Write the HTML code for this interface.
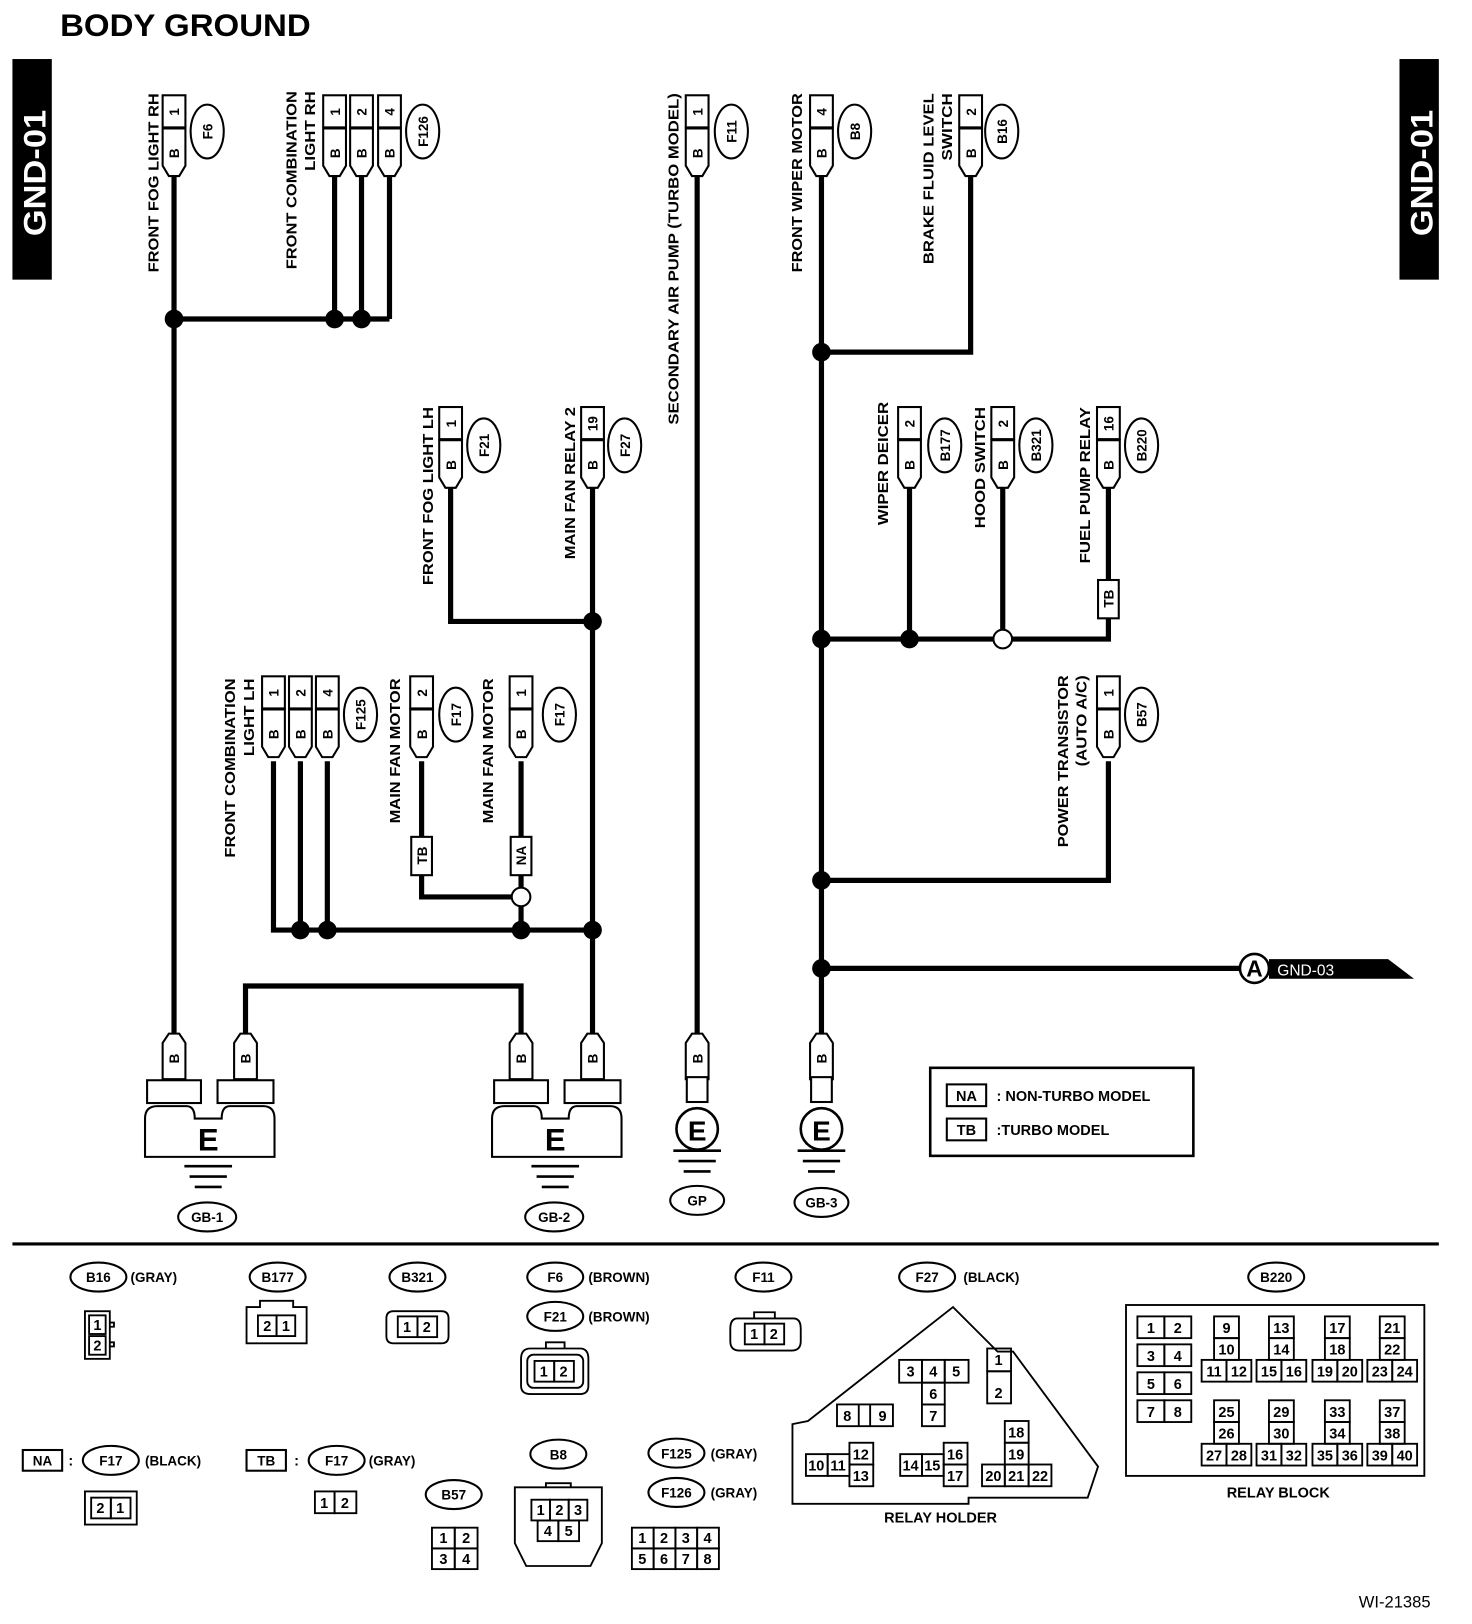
<!DOCTYPE html>
<html><head><meta charset="utf-8"><style>
html,body{margin:0;padding:0;background:#fff}
svg{display:block}
text{font-family:"Liberation Sans",Arial,sans-serif;font-weight:bold;fill:#000}
.l{font-size:14px}
.p{font-size:13px;text-anchor:middle}
.c{font-size:14px;font-weight:normal;text-anchor:middle}
.w{fill:none;stroke:#000;stroke-width:5}
.o{fill:#fff;stroke:#000;stroke-width:2}
.t{fill:none;stroke:#000;stroke-width:1.8}
</style></head><body>
<svg width="1472" height="1624" viewBox="0 0 1421 1568" preserveAspectRatio="none" xmlns="http://www.w3.org/2000/svg">
<defs>
<path id="cap" d="M-11,0 H11 V36 L5,46 H-5 L-11,36 Z" fill="#fff" stroke="#000" stroke-width="2"/>
<path id="capu" d="M-5,0 H5 L11,9 V44 H-11 V9 Z" fill="#fff" stroke="#000" stroke-width="2"/>
<rect id="pin" x="-11" y="0" width="22" height="31" fill="#fff" stroke="#000" stroke-width="2"/>
<ellipse id="el" rx="16" ry="26" fill="#fff" stroke="#000" stroke-width="2"/>
<circle id="dot" r="9" fill="#000"/>
</defs>

<text x="58" y="35" style="font-size:30px" textLength="242" lengthAdjust="spacingAndGlyphs">BODY GROUND</text>
<rect x="12" y="57" width="38" height="213" fill="#000"/>
<text transform="translate(44,228) rotate(-90)" style="font-size:30px;fill:#fff" textLength="122" lengthAdjust="spacingAndGlyphs">GND-01</text>
<rect x="1351" y="57" width="38" height="213" fill="#000"/>
<text transform="translate(1383,228) rotate(-90)" style="font-size:30px;fill:#fff" textLength="122" lengthAdjust="spacingAndGlyphs">GND-01</text>

<!-- wires -->
<g class="w">
<path d="M168,170 V1000"/><path d="M168,308 H376"/><path d="M323,170 V308"/><path d="M349,170 V308"/><path d="M376,170 V308"/>
<path d="M673,170 V1000"/>
<path d="M793,170 V1000"/><path d="M793,340 H937 V170"/>
<path d="M435,470 V600 H572"/><path d="M572,470 V1000"/>
<path d="M793,617 H1070 V470"/><path d="M878,470 V617"/><path d="M968,470 V617"/>
<path d="M1070,735 V850 H793"/>
<path d="M793,935 H1200"/>
<path d="M264,735 V898 H572"/><path d="M290,735 V898"/><path d="M316,735 V898"/>
<path d="M407,735 V866 H503"/><path d="M503,735 V898"/>
<path d="M237,998 V952 H503 V998"/>
</g>
<use href="#dot" x="168" y="308"/><use href="#dot" x="323" y="308"/><use href="#dot" x="349" y="308"/>
<use href="#dot" x="793" y="340"/><use href="#dot" x="572" y="600"/>
<use href="#dot" x="793" y="617"/><use href="#dot" x="878" y="617"/>
<circle cx="968" cy="617" r="9" class="o"/>
<use href="#dot" x="793" y="850"/><use href="#dot" x="793" y="935"/>
<use href="#dot" x="290" y="898"/><use href="#dot" x="316" y="898"/><use href="#dot" x="503" y="898"/><use href="#dot" x="572" y="898"/>
<circle cx="503" cy="866" r="9" class="o"/>

<rect x="1060" y="560" width="20" height="37" class="o"/><text class="p" transform="translate(1075,578) rotate(-90)">TB</text>
<rect x="397" y="808" width="20" height="37" class="o"/><text class="p" transform="translate(412,826) rotate(-90)">TB</text>
<rect x="493" y="808" width="20" height="37" class="o"/><text class="p" transform="translate(508,826) rotate(-90)">NA</text>

<g>
<use href="#pin" x="168" y="92"/><use href="#cap" x="168" y="124"/>
<use href="#pin" x="323" y="92"/><use href="#cap" x="323" y="124"/>
<use href="#pin" x="349" y="92"/><use href="#cap" x="349" y="124"/>
<use href="#pin" x="376" y="92"/><use href="#cap" x="376" y="124"/>
<use href="#pin" x="673" y="92"/><use href="#cap" x="673" y="124"/>
<use href="#pin" x="793" y="92"/><use href="#cap" x="793" y="124"/>
<use href="#pin" x="937" y="92"/><use href="#cap" x="937" y="124"/>
<use href="#pin" x="435" y="393"/><use href="#cap" x="435" y="425"/>
<use href="#pin" x="572" y="393"/><use href="#cap" x="572" y="425"/>
<use href="#pin" x="878" y="393"/><use href="#cap" x="878" y="425"/>
<use href="#pin" x="968" y="393"/><use href="#cap" x="968" y="425"/>
<use href="#pin" x="1070" y="393"/><use href="#cap" x="1070" y="425"/>
<use href="#pin" x="264" y="653"/><use href="#cap" x="264" y="685"/>
<use href="#pin" x="290" y="653"/><use href="#cap" x="290" y="685"/>
<use href="#pin" x="316" y="653"/><use href="#cap" x="316" y="685"/>
<use href="#pin" x="407" y="653"/><use href="#cap" x="407" y="685"/>
<use href="#pin" x="503" y="653"/><use href="#cap" x="503" y="685"/>
<use href="#pin" x="1070" y="653"/><use href="#cap" x="1070" y="685"/>
</g>
<g class="p">
<text transform="translate(173,108) rotate(-90)">1</text><text transform="translate(173,148) rotate(-90)">B</text>
<text transform="translate(328,108) rotate(-90)">1</text><text transform="translate(328,148) rotate(-90)">B</text>
<text transform="translate(354,108) rotate(-90)">2</text><text transform="translate(354,148) rotate(-90)">B</text>
<text transform="translate(381,108) rotate(-90)">4</text><text transform="translate(381,148) rotate(-90)">B</text>
<text transform="translate(678,108) rotate(-90)">1</text><text transform="translate(678,148) rotate(-90)">B</text>
<text transform="translate(798,108) rotate(-90)">4</text><text transform="translate(798,148) rotate(-90)">B</text>
<text transform="translate(942,108) rotate(-90)">2</text><text transform="translate(942,148) rotate(-90)">B</text>
<text transform="translate(440,409) rotate(-90)">1</text><text transform="translate(440,449) rotate(-90)">B</text>
<text transform="translate(577,409) rotate(-90)">19</text><text transform="translate(577,449) rotate(-90)">B</text>
<text transform="translate(883,409) rotate(-90)">2</text><text transform="translate(883,449) rotate(-90)">B</text>
<text transform="translate(973,409) rotate(-90)">2</text><text transform="translate(973,449) rotate(-90)">B</text>
<text transform="translate(1075,409) rotate(-90)">16</text><text transform="translate(1075,449) rotate(-90)">B</text>
<text transform="translate(269,669) rotate(-90)">1</text><text transform="translate(269,709) rotate(-90)">B</text>
<text transform="translate(295,669) rotate(-90)">2</text><text transform="translate(295,709) rotate(-90)">B</text>
<text transform="translate(321,669) rotate(-90)">4</text><text transform="translate(321,709) rotate(-90)">B</text>
<text transform="translate(412,669) rotate(-90)">2</text><text transform="translate(412,709) rotate(-90)">B</text>
<text transform="translate(508,669) rotate(-90)">1</text><text transform="translate(508,709) rotate(-90)">B</text>
<text transform="translate(1075,669) rotate(-90)">1</text><text transform="translate(1075,709) rotate(-90)">B</text>
</g>
<use href="#el" x="200" y="127"/><use href="#el" x="408" y="127"/><use href="#el" x="706" y="127"/><use href="#el" x="825" y="127"/><use href="#el" x="967" y="127"/>
<use href="#el" x="467" y="430"/><use href="#el" x="603" y="430"/><use href="#el" x="912" y="430"/><use href="#el" x="1000" y="430"/><use href="#el" x="1102" y="430"/>
<use href="#el" x="348" y="690"/><use href="#el" x="440" y="690"/><use href="#el" x="540" y="690"/><use href="#el" x="1102" y="690"/>
<g class="p">
<text transform="translate(205,127) rotate(-90)">F6</text>
<text transform="translate(413,127) rotate(-90)">F126</text>
<text transform="translate(711,127) rotate(-90)">F11</text>
<text transform="translate(830,127) rotate(-90)">B8</text>
<text transform="translate(972,127) rotate(-90)">B16</text>
<text transform="translate(472,430) rotate(-90)">F21</text>
<text transform="translate(608,430) rotate(-90)">F27</text>
<text transform="translate(917,430) rotate(-90)">B177</text>
<text transform="translate(1005,430) rotate(-90)">B321</text>
<text transform="translate(1107,430) rotate(-90)">B220</text>
<text transform="translate(353,690) rotate(-90)">F125</text>
<text transform="translate(445,690) rotate(-90)">F17</text>
<text transform="translate(545,690) rotate(-90)">F17</text>
<text transform="translate(1107,690) rotate(-90)">B57</text>
</g>
<g class="l">
<text transform="translate(153,263) rotate(-90)" textLength="173" lengthAdjust="spacingAndGlyphs">FRONT FOG LIGHT RH</text>
<text transform="translate(286,260) rotate(-90)" textLength="172" lengthAdjust="spacingAndGlyphs">FRONT COMBINATION</text>
<text transform="translate(304,165) rotate(-90)" textLength="77" lengthAdjust="spacingAndGlyphs">LIGHT RH</text>
<text transform="translate(655,410) rotate(-90)" textLength="320" lengthAdjust="spacingAndGlyphs">SECONDARY AIR PUMP (TURBO MODEL)</text>
<text transform="translate(774,263) rotate(-90)" textLength="173" lengthAdjust="spacingAndGlyphs">FRONT WIPER MOTOR</text>
<text transform="translate(901,255) rotate(-90)" textLength="165" lengthAdjust="spacingAndGlyphs">BRAKE FLUID LEVEL</text>
<text transform="translate(919,155) rotate(-90)" textLength="65" lengthAdjust="spacingAndGlyphs">SWITCH</text>
<text transform="translate(418,565) rotate(-90)" textLength="172" lengthAdjust="spacingAndGlyphs">FRONT FOG LIGHT LH</text>
<text transform="translate(555,540) rotate(-90)" textLength="147" lengthAdjust="spacingAndGlyphs">MAIN FAN RELAY 2</text>
<text transform="translate(857,507) rotate(-90)" textLength="119" lengthAdjust="spacingAndGlyphs">WIPER DEICER</text>
<text transform="translate(951,510) rotate(-90)" textLength="117" lengthAdjust="spacingAndGlyphs">HOOD SWITCH</text>
<text transform="translate(1052,544) rotate(-90)" textLength="151" lengthAdjust="spacingAndGlyphs">FUEL PUMP RELAY</text>
<text transform="translate(227,828) rotate(-90)" textLength="173" lengthAdjust="spacingAndGlyphs">FRONT COMBINATION</text>
<text transform="translate(245,730) rotate(-90)" textLength="75" lengthAdjust="spacingAndGlyphs">LIGHT LH</text>
<text transform="translate(386,795) rotate(-90)" textLength="140" lengthAdjust="spacingAndGlyphs">MAIN FAN MOTOR</text>
<text transform="translate(476,795) rotate(-90)" textLength="140" lengthAdjust="spacingAndGlyphs">MAIN FAN MOTOR</text>
<text transform="translate(1031,818) rotate(-90)" textLength="166" lengthAdjust="spacingAndGlyphs">POWER TRANSISTOR</text>
<text transform="translate(1049,740) rotate(-90)" textLength="88" lengthAdjust="spacingAndGlyphs">(AUTO A/C)</text>
</g>

<circle cx="1211" cy="935" r="14" class="o" style="stroke-width:2.5"/>
<text x="1211" y="943" style="font-size:22px;text-anchor:middle">A</text>
<path d="M1225,926 H1340 L1365,945 H1225 Z" fill="#000"/>
<text x="1233" y="942" style="font-size:15px;fill:#fff;font-weight:normal">GND-03</text>

<g>
<use href="#capu" x="168" y="998"/><use href="#capu" x="237" y="998"/>
<use href="#capu" x="503" y="998"/><use href="#capu" x="572" y="998"/>
<use href="#capu" x="673" y="998"/><use href="#capu" x="793" y="998"/>
</g>
<g class="p">
<text transform="translate(173,1022) rotate(-90)">B</text><text transform="translate(242,1022) rotate(-90)">B</text>
<text transform="translate(508,1022) rotate(-90)">B</text><text transform="translate(577,1022) rotate(-90)">B</text>
<text transform="translate(678,1022) rotate(-90)">B</text><text transform="translate(798,1022) rotate(-90)">B</text>
</g>
<g fill="#fff" stroke="#000" stroke-width="2">
<rect x="142" y="1043" width="52" height="22"/><rect x="210" y="1043" width="54" height="22"/>
<path d="M140,1117 V1080 Q140,1068 152,1068 H180 Q188,1068 188,1080 H214 Q214,1068 222,1068 H254 Q265,1068 265,1080 V1117 Z"/>
<rect x="477" y="1043" width="52" height="22"/><rect x="545" y="1043" width="54" height="22"/>
<path d="M475,1117 V1080 Q475,1068 487,1068 H515 Q523,1068 523,1080 H549 Q549,1068 557,1068 H589 Q600,1068 600,1080 V1117 Z"/>
<rect x="663" y="1040" width="20" height="24"/><circle cx="673" cy="1090" r="20" stroke-width="2.5"/>
<rect x="783" y="1040" width="20" height="24"/><circle cx="793" cy="1090" r="20" stroke-width="2.5"/>
</g>
<g style="font-size:30px;text-anchor:middle">
<text x="201" y="1111">E</text><text x="536" y="1111">E</text>
<text x="673" y="1101" style="font-size:27px">E</text><text x="793" y="1101" style="font-size:27px">E</text>
</g>
<g stroke="#000" stroke-width="2.5">
<path d="M178,1126 H224 M183,1136 H219 M188,1146 H214"/>
<path d="M513,1126 H559 M518,1136 H554 M523,1146 H549"/>
<path d="M650,1111 H696 M655,1121 H691 M660,1131 H686"/>
<path d="M770,1111 H816 M775,1121 H811 M780,1131 H806"/>
</g>
<g class="o"><ellipse cx="200" cy="1175" rx="28" ry="14"/><ellipse cx="535" cy="1175" rx="28" ry="14"/><ellipse cx="673" cy="1159" rx="26" ry="14"/><ellipse cx="793" cy="1161" rx="26" ry="14"/></g>
<g class="p"><text x="200" y="1180">GB-1</text><text x="535" y="1180">GB-2</text><text x="673" y="1164">GP</text><text x="793" y="1166">GB-3</text></g>

<rect x="898" y="1031" width="254" height="85" class="o" style="stroke-width:2.5"/>
<rect x="914" y="1047" width="38" height="21" class="o"/><text x="933" y="1063" class="p" style="font-size:14px">NA</text>
<text x="962" y="1063" style="font-size:14px">: NON-TURBO MODEL</text>
<rect x="914" y="1080" width="38" height="21" class="o"/><text x="933" y="1096" class="p" style="font-size:14px">TB</text>
<text x="962" y="1096" style="font-size:14px">:TURBO MODEL</text>

<line x1="12" y1="1201" x2="1389" y2="1201" stroke="#000" stroke-width="3"/>

<g class="o">
<ellipse cx="95" cy="1233" rx="27" ry="14"/><ellipse cx="268" cy="1233" rx="27" ry="14"/><ellipse cx="403" cy="1233" rx="27" ry="14"/>
<ellipse cx="536" cy="1233" rx="27" ry="14"/><ellipse cx="536" cy="1271" rx="27" ry="14"/><ellipse cx="737" cy="1233" rx="27" ry="14"/>
<ellipse cx="895" cy="1233" rx="27" ry="14"/><ellipse cx="1232" cy="1233" rx="27" ry="14"/>
<ellipse cx="107" cy="1410" rx="27" ry="14"/><ellipse cx="325" cy="1410" rx="27" ry="14"/><ellipse cx="438" cy="1443" rx="27" ry="14"/>
<ellipse cx="539" cy="1404" rx="27" ry="14"/><ellipse cx="653" cy="1403" rx="27" ry="14"/><ellipse cx="653" cy="1441" rx="27" ry="14"/>
</g>
<g class="p">
<text x="95" y="1238">B16</text><text x="268" y="1238">B177</text><text x="403" y="1238">B321</text>
<text x="536" y="1238">F6</text><text x="536" y="1276">F21</text><text x="737" y="1238">F11</text>
<text x="895" y="1238">F27</text><text x="1232" y="1238">B220</text>
<text x="107" y="1415">F17</text><text x="325" y="1415">F17</text><text x="438" y="1448">B57</text>
<text x="539" y="1409">B8</text><text x="653" y="1408">F125</text><text x="653" y="1446">F126</text>
</g>
<g style="font-size:13px">
<text x="126" y="1238">(GRAY)</text><text x="568" y="1238">(BROWN)</text><text x="568" y="1276">(BROWN)</text>
<text x="930" y="1238">(BLACK)</text><text x="140" y="1415">(BLACK)</text><text x="356" y="1415">(GRAY)</text>
<text x="686" y="1408">(GRAY)</text><text x="686" y="1446">(GRAY)</text>
</g>
<rect x="22" y="1400" width="38" height="20" class="o"/><text x="41" y="1415" class="p">NA</text><text x="66" y="1415" class="l">:</text>
<rect x="238" y="1400" width="38" height="20" class="o"/><text x="257" y="1415" class="p">TB</text><text x="284" y="1415" class="l">:</text>

<g class="t">
<rect x="82" y="1266" width="24" height="46"/><rect x="86" y="1270" width="16" height="18"/><rect x="86" y="1290" width="16" height="18"/>
<path d="M106,1277 h4 v4 h-4 M106,1296 h4 v4 h-4"/>
<path d="M238,1297 V1262 H251 V1256 H283 V1262 H296 V1297 Z"/><rect x="249" y="1270" width="18" height="20"/><rect x="267" y="1270" width="18" height="20"/>
<path d="M380,1266 H426 Q433,1266 433,1273 V1290 Q433,1297 426,1297 H380 Q373,1297 373,1290 V1273 Q373,1266 380,1266 Z"/><rect x="384" y="1271" width="19" height="20"/><rect x="403" y="1271" width="19" height="20"/>
<path d="M512,1302 H560 Q568,1302 568,1312 V1338 Q568,1346 560,1346 H512 Q503,1346 503,1338 V1312 Q503,1302 512,1302 Z"/><path d="M527,1302 v-6 h18 v6"/>
<rect x="509" y="1308" width="54" height="32" rx="6"/><rect x="516" y="1314" width="19" height="20"/><rect x="535" y="1314" width="19" height="20"/>
<path d="M712,1273 H766 Q773,1273 773,1283 V1295 Q773,1304 764,1304 H714 Q705,1304 705,1295 V1283 Q705,1273 712,1273 Z"/><path d="M728,1273 v-6 h20 v6"/>
<rect x="719" y="1278" width="19" height="20"/><rect x="738" y="1278" width="19" height="20"/>
<rect x="82" y="1440" width="50" height="32"/><rect x="88" y="1446" width="19" height="20"/><rect x="107" y="1446" width="19" height="20"/>
<rect x="304" y="1440" width="19" height="21"/><rect x="323" y="1440" width="21" height="21"/>
<rect x="417" y="1475" width="22" height="20"/><rect x="439" y="1475" width="22" height="20"/><rect x="417" y="1495" width="22" height="20"/><rect x="439" y="1495" width="22" height="20"/>
<path d="M497,1436 H581 V1490 L570,1512 H508 L497,1490 Z"/><path d="M527,1436 v-4 h24 v4"/>
<rect x="513" y="1448" width="18" height="20"/><rect x="531" y="1448" width="18" height="20"/><rect x="549" y="1448" width="18" height="20"/>
<rect x="519" y="1468" width="20" height="20"/><rect x="539" y="1468" width="20" height="20"/>
<rect x="610" y="1475" width="21" height="20"/><rect x="631" y="1475" width="21" height="20"/><rect x="652" y="1475" width="21" height="20"/><rect x="673" y="1475" width="21" height="20"/>
<rect x="610" y="1495" width="21" height="20"/><rect x="631" y="1495" width="21" height="20"/><rect x="652" y="1495" width="21" height="20"/><rect x="673" y="1495" width="21" height="20"/>
<path d="M765,1375 L780,1372 L920,1262 L963,1305 L978,1305 L1060,1416 L1050,1446 L935,1446 L935,1452 L765,1452 Z"/>
<rect x="868" y="1313" width="22" height="22"/><rect x="890" y="1313" width="22" height="22"/><rect x="912" y="1313" width="23" height="22"/>
<rect x="890" y="1335" width="22" height="21"/><rect x="890" y="1356" width="22" height="21"/>
<rect x="953" y="1302" width="23" height="22"/><rect x="953" y="1324" width="23" height="31"/>
<rect x="808" y="1356" width="54" height="21"/><line x1="829" y1="1356" x2="829" y2="1377"/><line x1="840" y1="1356" x2="840" y2="1377"/>
<rect x="778" y="1404" width="21" height="21"/><rect x="799" y="1404" width="21" height="21"/><rect x="820" y="1393" width="23" height="21"/><rect x="820" y="1414" width="23" height="21"/>
<rect x="869" y="1404" width="21" height="21"/><rect x="890" y="1404" width="21" height="21"/><rect x="911" y="1393" width="23" height="21"/><rect x="911" y="1414" width="23" height="21"/>
<rect x="970" y="1372" width="23" height="21"/><rect x="970" y="1393" width="23" height="21"/>
<rect x="948" y="1414" width="22" height="21"/><rect x="970" y="1414" width="23" height="21"/><rect x="993" y="1414" width="22" height="21"/>
<rect x="1087" y="1260" width="288" height="165"/>
<rect x="1098" y="1271" width="26" height="21"/><rect x="1124" y="1271" width="26" height="21"/>
<rect x="1098" y="1298" width="26" height="21"/><rect x="1124" y="1298" width="26" height="21"/>
<rect x="1098" y="1325" width="26" height="21"/><rect x="1124" y="1325" width="26" height="21"/>
<rect x="1098" y="1352" width="26" height="21"/><rect x="1124" y="1352" width="26" height="21"/>
<rect x="1172" y="1271" width="24" height="21"/><rect x="1172" y="1292" width="24" height="21"/><rect x="1160" y="1313" width="24" height="21"/><rect x="1184" y="1313" width="24" height="21"/>
<rect x="1225" y="1271" width="24" height="21"/><rect x="1225" y="1292" width="24" height="21"/><rect x="1213" y="1313" width="24" height="21"/><rect x="1237" y="1313" width="24" height="21"/>
<rect x="1279" y="1271" width="24" height="21"/><rect x="1279" y="1292" width="24" height="21"/><rect x="1267" y="1313" width="24" height="21"/><rect x="1291" y="1313" width="24" height="21"/>
<rect x="1332" y="1271" width="24" height="21"/><rect x="1332" y="1292" width="24" height="21"/><rect x="1320" y="1313" width="24" height="21"/><rect x="1344" y="1313" width="24" height="21"/>
<rect x="1172" y="1352" width="24" height="21"/><rect x="1172" y="1373" width="24" height="21"/><rect x="1160" y="1394" width="24" height="21"/><rect x="1184" y="1394" width="24" height="21"/>
<rect x="1225" y="1352" width="24" height="21"/><rect x="1225" y="1373" width="24" height="21"/><rect x="1213" y="1394" width="24" height="21"/><rect x="1237" y="1394" width="24" height="21"/>
<rect x="1279" y="1352" width="24" height="21"/><rect x="1279" y="1373" width="24" height="21"/><rect x="1267" y="1394" width="24" height="21"/><rect x="1291" y="1394" width="24" height="21"/>
<rect x="1332" y="1352" width="24" height="21"/><rect x="1332" y="1373" width="24" height="21"/><rect x="1320" y="1394" width="24" height="21"/><rect x="1344" y="1394" width="24" height="21"/>
</g>
<g class="c">
<text x="94" y="1284">1</text><text x="94" y="1304">2</text>
<text x="258" y="1285">2</text><text x="276" y="1285">1</text>
<text x="393" y="1286">1</text><text x="412" y="1286">2</text>
<text x="525" y="1329">1</text><text x="544" y="1329">2</text>
<text x="728" y="1293">1</text><text x="747" y="1293">2</text>
<text x="97" y="1461">2</text><text x="116" y="1461">1</text>
<text x="313" y="1456">1</text><text x="333" y="1456">2</text>
<text x="428" y="1490">1</text><text x="450" y="1490">2</text><text x="428" y="1510">3</text><text x="450" y="1510">4</text>
<text x="522" y="1463">1</text><text x="540" y="1463">2</text><text x="558" y="1463">3</text><text x="529" y="1483">4</text><text x="549" y="1483">5</text>
<text x="620" y="1490">1</text><text x="641" y="1490">2</text><text x="662" y="1490">3</text><text x="683" y="1490">4</text>
<text x="620" y="1510">5</text><text x="641" y="1510">6</text><text x="662" y="1510">7</text><text x="683" y="1510">8</text>
<text x="879" y="1329">3</text><text x="901" y="1329">4</text><text x="923" y="1329">5</text><text x="901" y="1351">6</text><text x="901" y="1372">7</text>
<text x="964" y="1318">1</text><text x="964" y="1350">2</text>
<text x="818" y="1372">8</text><text x="852" y="1372">9</text>
<text x="788" y="1420">10</text><text x="809" y="1420">11</text><text x="831" y="1409">12</text><text x="831" y="1430">13</text>
<text x="879" y="1420">14</text><text x="900" y="1420">15</text><text x="922" y="1409">16</text><text x="922" y="1430">17</text>
<text x="981" y="1388">18</text><text x="981" y="1409">19</text>
<text x="959" y="1430">20</text><text x="981" y="1430">21</text><text x="1004" y="1430">22</text>
<text x="1111" y="1287">1</text><text x="1137" y="1287">2</text><text x="1111" y="1314">3</text><text x="1137" y="1314">4</text>
<text x="1111" y="1341">5</text><text x="1137" y="1341">6</text><text x="1111" y="1368">7</text><text x="1137" y="1368">8</text>
<text x="1184" y="1287">9</text><text x="1184" y="1308">10</text><text x="1172" y="1329">11</text><text x="1196" y="1329">12</text>
<text x="1237" y="1287">13</text><text x="1237" y="1308">14</text><text x="1225" y="1329">15</text><text x="1249" y="1329">16</text>
<text x="1291" y="1287">17</text><text x="1291" y="1308">18</text><text x="1279" y="1329">19</text><text x="1303" y="1329">20</text>
<text x="1344" y="1287">21</text><text x="1344" y="1308">22</text><text x="1332" y="1329">23</text><text x="1356" y="1329">24</text>
<text x="1184" y="1368">25</text><text x="1184" y="1389">26</text><text x="1172" y="1410">27</text><text x="1196" y="1410">28</text>
<text x="1237" y="1368">29</text><text x="1237" y="1389">30</text><text x="1225" y="1410">31</text><text x="1249" y="1410">32</text>
<text x="1291" y="1368">33</text><text x="1291" y="1389">34</text><text x="1279" y="1410">35</text><text x="1303" y="1410">36</text>
<text x="1344" y="1368">37</text><text x="1344" y="1389">38</text><text x="1332" y="1410">39</text><text x="1356" y="1410">40</text>
</g>
<text x="908" y="1470" class="p" style="font-size:14px">RELAY HOLDER</text>
<text x="1234" y="1446" class="p" style="font-size:14px">RELAY BLOCK</text>
<text x="1381" y="1552" style="font-size:16px;font-weight:normal;text-anchor:end">WI-21385</text>
</svg>
</body></html>
